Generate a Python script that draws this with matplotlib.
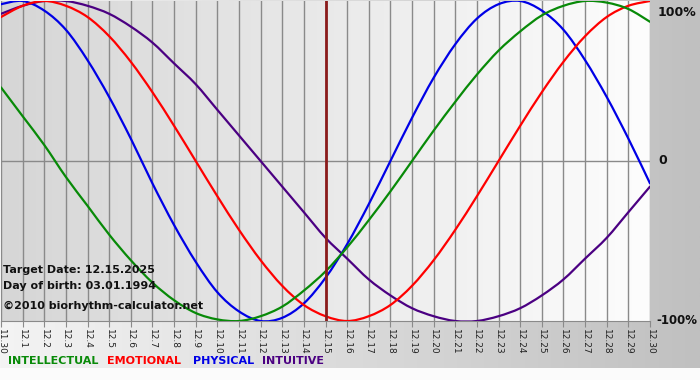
import numpy as np
import matplotlib
matplotlib.use("Agg")
import matplotlib.pyplot as plt
from matplotlib.path import Path
from matplotlib.patches import PathPatch, Rectangle
from matplotlib.colors import LinearSegmentedColormap

# days shown: 11.30 and the whole of December
days = ["11.30"] + ["12.%d" % d for d in range(1, 31)]

# values, -1 .. 1
physical = [0.98, 1.00, 0.94, 0.82, 0.63, 0.40, 0.14, -0.14, -0.40, -0.63,
            -0.82, -0.94, -1.00, -0.98, -0.89, -0.73, -0.52, -0.27, 0.00, 0.27,
            0.52, 0.73, 0.89, 0.98, 1.00, 0.94, 0.82, 0.63, 0.40, 0.14, -0.14]
emotional = [0.90, 0.97, 1.00, 0.97, 0.90, 0.78, 0.62, 0.43, 0.22, 0.00,
             -0.22, -0.43, -0.62, -0.78, -0.90, -0.97, -1.00, -0.97, -0.90, -0.78,
             -0.62, -0.43, -0.22, 0.00, 0.22, 0.43, 0.62, 0.78, 0.90, 0.97, 1.00]
intellectual = [0.46, 0.28, 0.10, -0.10, -0.28, -0.46, -0.62, -0.76, -0.87, -0.95,
                -0.99, -1.00, -0.97, -0.91, -0.81, -0.69, -0.54, -0.37, -0.19, 0.00,
                0.19, 0.37, 0.54, 0.69, 0.81, 0.91, 0.97, 1.00, 0.99, 0.95, 0.87]
intuitive = [0.92, 0.97, 1.00, 1.00, 0.97, 0.92, 0.84, 0.74, 0.61, 0.48,
             0.32, 0.16, 0.00, -0.16, -0.32, -0.48, -0.61, -0.74, -0.84, -0.92,
             -0.97, -1.00, -1.00, -0.97, -0.92, -0.84, -0.74, -0.61, -0.48, -0.32, -0.16]
target_idx = 15

c_int = "#088a08"
c_emo = "#ff0000"
c_phy = "#0000e6"
c_itu = "#4b0082"


def smooth_line(ax, xs, ys, color):
    # catmull-rom style bezier through the daily points
    pts = np.column_stack([xs, ys]).astype(float)
    ext = np.vstack([pts[0], pts, pts[-1]])
    verts = [pts[0]]
    codes = [Path.MOVETO]
    for i in range(1, len(ext) - 2):
        p0, p1, p2, p3 = ext[i - 1], ext[i], ext[i + 1], ext[i + 2]
        verts += [p1 + (p2 - p0) / 6, p2 - (p3 - p1) / 6, p2]
        codes += [Path.CURVE4] * 3
    ax.add_patch(PathPatch(Path(verts, codes), fill=False, edgecolor=color,
                           lw=1.6, zorder=3, capstyle="round", joinstyle="round"))


fig = plt.figure(figsize=(7, 3.8), dpi=100)

# background: light on the left, grey on the right, white strip at the bottom
bg = fig.add_axes([0, 0, 1, 1], zorder=-10)
grad = np.linspace(0, 1, 256).reshape(1, -1)
bg.set_xlim(0, 700)
bg.set_ylim(380, 0)
bg.imshow(grad, aspect="auto", cmap=LinearSegmentedColormap.from_list(
    "bgc", ["#f4f4f4", "#c0c0c0"]), extent=[0, 700, 368, 0])
bg.add_patch(Rectangle((0, 368), 700, 12, color="#fbfbfb", lw=0))
bg.axis("off")

ax = fig.add_axes([1 / 700, 1 - 321 / 380, 649 / 700, 320 / 380])
x = np.arange(len(days))
ax.imshow(grad, aspect="auto", cmap=LinearSegmentedColormap.from_list(
    "pc", ["#d6d6d6", "#fdfdfd"]), extent=[0, 30, -1, 1], zorder=0)
ax.set_xlim(0, 30)
ax.set_ylim(-1, 1)

for xi in x:
    ax.axvline(xi, color="#8a8a8a", lw=1, zorder=1)
ax.axhline(0, color="#8a8a8a", lw=1, zorder=1)

smooth_line(ax, x, intuitive, c_itu)
smooth_line(ax, x, physical, c_phy)
smooth_line(ax, x, emotional, c_emo)
smooth_line(ax, x, intellectual, c_int)
ax.axvline(target_idx, color="#8b1c1c", lw=2, zorder=4)

for s in ["top", "left", "right"]:
    ax.spines[s].set_visible(False)
ax.spines["bottom"].set_color("#8a8a8a")
ax.set_xticks(x)
ax.set_xticklabels(days, rotation=270, fontsize=6.5, color="#222222")
ax.tick_params(axis="x", length=4, color="#8a8a8a", pad=2)
ax.set_yticks([])

fig.text(658 / 700, 1 - 12 / 380, "100%", fontsize=9, weight="bold", va="center", ha="left", color="#111111")
fig.text(658 / 700, 1 - 161 / 380, "0", fontsize=9, weight="bold", va="center", ha="left", color="#111111")
fig.text(656 / 700, 1 - 321 / 380, "-100%", fontsize=8.5, weight="bold", va="center", ha="left", color="#111111")

fig.text(3 / 700, 1 - 270 / 380, "Target Date: 12.15.2025", fontsize=8, weight="bold", va="center", color="#111111")
fig.text(3 / 700, 1 - 286 / 380, "Day of birth: 03.01.1994", fontsize=8, weight="bold", va="center", color="#111111")
fig.text(3 / 700, 1 - 306 / 380, "\u00a92010 biorhythm-calculator.net", fontsize=8, weight="bold", va="center", color="#111111")

legend = [("INTELLECTUAL", c_int, 8), ("EMOTIONAL", c_emo, 107),
          ("PHYSICAL", c_phy, 193), ("INTUITIVE", c_itu, 262)]
for name, col, px in legend:
    fig.text(px / 700, 1 - 361 / 380, name, color=col, fontsize=8, weight="bold", va="center")

fig.savefig("out.png", dpi=100)
